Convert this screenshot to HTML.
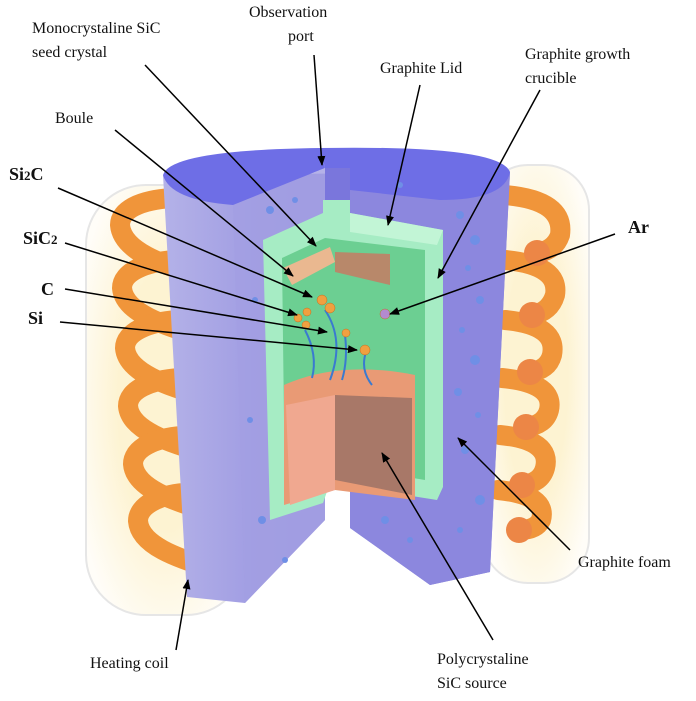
<!DOCTYPE html>
<html><head><meta charset="utf-8"><style>
html,body{margin:0;padding:0;background:#fff;}
svg{display:block;}
text{font-family:"Liberation Serif",serif;font-size:16px;fill:#111;}
.b{font-weight:bold;font-size:18px;}
</style></head><body>
<svg width="696" height="701" viewBox="0 0 696 701" xmlns="http://www.w3.org/2000/svg">
<defs>
<marker id="ar" markerWidth="10" markerHeight="8" refX="9" refY="4" orient="auto" markerUnits="userSpaceOnUse">
<path d="M0,0 L10,4 L0,8 z" fill="#000"/></marker>
<linearGradient id="cyl" x1="0" x2="1" y1="0" y2="0">
<stop offset="0" stop-color="#b4b2e8"/><stop offset="0.3" stop-color="#9e9ae2"/><stop offset="1" stop-color="#8a86da"/></linearGradient>
<radialGradient id="halo" cx="0.5" cy="0.5" r="0.6">
<stop offset="0.5" stop-color="#fdf3d2"/><stop offset="1" stop-color="#fffdf8"/></radialGradient>
</defs>

<!-- halos -->
<rect x="86" y="185" width="160" height="430" rx="60" fill="url(#halo)" stroke="#e6e6e6" stroke-width="2"/>
<rect x="483" y="165" width="106" height="418" rx="45" fill="url(#halo)" stroke="#e6e6e6" stroke-width="2"/>

<!-- left coil -->
<g fill="none" stroke="#f0953a" stroke-width="20" stroke-linecap="round">
<path d="M205,277 C160,265 122,250 120,225 C120,210 140,200 172,198"/>
<path d="M208,338 C162,326 124,312 122,288 C122,272 145,262 175,260"/>
<path d="M210,398 C165,386 127,372 125,348 C125,332 148,322 178,320"/>
<path d="M212,455 C168,443 130,430 128,406 C128,390 150,380 180,378"/>
<path d="M214,513 C172,501 135,488 133,464 C133,448 155,438 182,436"/>
<path d="M216,570 C176,558 140,545 138,521 C138,505 160,495 184,493"/>
</g>
<g fill="#f2a04a">
<ellipse cx="207" cy="277" rx="8" ry="11"/><ellipse cx="210" cy="338" rx="8" ry="11"/>
<ellipse cx="212" cy="398" rx="8" ry="11"/><ellipse cx="214" cy="455" rx="8" ry="11"/>
<ellipse cx="216" cy="513" rx="8" ry="11"/><ellipse cx="218" cy="570" rx="8" ry="11"/>
</g>

<!-- right coil -->
<g fill="none" stroke="#f0953a" stroke-width="20" stroke-linecap="round">
<path d="M505,195 Q565,200 560,235 Q555,250 537,253"/>
<path d="M505,260 Q560,265 555,295 Q550,312 532,315"/>
<path d="M505,320 Q558,325 552,355 Q548,370 530,372"/>
<path d="M502,378 Q555,383 549,410 Q545,425 526,427"/>
<path d="M500,435 Q552,440 545,468 Q541,483 522,485"/>
<path d="M498,490 Q548,495 541,520 Q536,530 519,530"/>
</g>
<g fill="#ec8646">
<circle cx="537" cy="253" r="13"/><circle cx="532" cy="315" r="13"/><circle cx="530" cy="372" r="13"/>
<circle cx="526" cy="427" r="13"/><circle cx="522" cy="485" r="13"/><circle cx="519" cy="530" r="13"/>
</g>

<!-- cylinder body -->
<path d="M163,175 L510,172 L490,572 L430,585 L350,528 L350,490 L325,490 L325,520 L245,603 L187,597 Z" fill="url(#cyl)"/>
<path d="M233,205 L325,168 L325,520 L245,603 Z" fill="#a39fe2" opacity="0.8"/>
<path d="M350,168 L350,528 L430,585 L490,572 L510,172 Z" fill="#8c87de"/>
<path d="M163,175 Q170,150 320,148 L325,168 L233,205 Q170,200 163,175 Z" fill="#6e6ee6"/>
<path d="M320,148 Q500,145 510,172 Q505,200 440,200 L350,190 L350,168 L325,168 Z" fill="#6e6ee6"/>
<rect x="325" y="168" width="25" height="322" fill="#7a76dc"/>

<!-- bubbles -->
<g fill="#6f8fe6">
<circle cx="460" cy="215" r="4"/><circle cx="475" cy="240" r="5"/><circle cx="468" cy="268" r="3"/>
<circle cx="480" cy="300" r="4"/><circle cx="462" cy="330" r="3"/><circle cx="475" cy="360" r="5"/>
<circle cx="458" cy="392" r="4"/><circle cx="478" cy="415" r="3"/><circle cx="465" cy="450" r="4"/>
<circle cx="480" cy="500" r="5"/><circle cx="460" cy="530" r="3"/><circle cx="385" cy="520" r="4"/>
<circle cx="410" cy="540" r="3"/><circle cx="270" cy="210" r="4"/><circle cx="295" cy="200" r="3"/>
<circle cx="255" cy="300" r="3"/><circle cx="250" cy="420" r="3"/><circle cx="262" cy="520" r="4"/>
<circle cx="285" cy="560" r="3"/><circle cx="400" cy="185" r="3"/>
</g>

<!-- green crucible -->
<path d="M263,240 L323,213 L323,200 L350,200 L350,213 L443,230 L443,487 L437,500 L330,483 L323,503 L270,520 Z" fill="#a6ecc4"/>
<path d="M282,258 L325,238 L425,250 L425,480 L335,465 L330,485 L285,500 Z" fill="#6ccf92"/>
<path d="M350,213 L443,230 L437,245 L350,232 Z" fill="#c2f5d6"/>
<path d="M283,268 L330,247 L335,262 L292,285 Z" fill="#eab890"/>
<path d="M335,252 L390,254 L390,285 L335,272 Z" fill="#b8886a"/>
<path d="M284,385 Q340,360 415,375 L415,500 L335,490 L284,505 Z" fill="#e99a75"/>
<path d="M286,405 L335,395 L335,490 L290,505 Z" fill="#f0a890"/>
<path d="M335,395 L412,398 L412,495 L335,480 Z" fill="#a87868"/>
<g fill="none" stroke="#3a7ad0" stroke-width="2">
<path d="M305,330 Q318,355 312,378"/><path d="M325,310 Q345,340 330,380"/>
<path d="M345,335 Q348,360 342,380"/><path d="M366,352 Q360,370 372,385"/>
</g>
<g fill="#f0a040" stroke="#c07020" stroke-width="0.5">
<circle cx="322" cy="300" r="5"/><circle cx="330" cy="308" r="5"/><circle cx="307" cy="312" r="4"/>
<circle cx="298" cy="318" r="4"/><circle cx="306" cy="325" r="4"/><circle cx="346" cy="333" r="4"/>
<circle cx="365" cy="350" r="5"/><circle cx="385" cy="314" r="5" fill="#b48ad0"/>
</g>

<!-- arrows -->
<g stroke="#000" stroke-width="1.5" fill="none" marker-end="url(#ar)">
<line x1="145" y1="65" x2="316" y2="246"/>
<line x1="314" y1="55" x2="322" y2="165"/>
<line x1="420" y1="85" x2="388" y2="225"/>
<line x1="540" y1="90" x2="438" y2="278"/>
<line x1="115" y1="130" x2="293" y2="276"/>
<line x1="58" y1="188" x2="312" y2="297"/>
<line x1="65" y1="243" x2="297" y2="315"/>
<line x1="65" y1="289" x2="327" y2="332"/>
<line x1="60" y1="322" x2="357" y2="350"/>
<line x1="615" y1="234" x2="390" y2="314"/>
<line x1="570" y1="550" x2="458" y2="438"/>
<line x1="176" y1="650" x2="188" y2="580"/>
<line x1="493" y1="640" x2="382" y2="453"/>
</g>

<text x="32" y="33">Monocrystaline SiC</text>
<text x="32" y="57">seed crystal</text>
<text x="249" y="17">Observation</text>
<text x="288" y="41">port</text>
<text x="380" y="73">Graphite Lid</text>
<text x="525" y="59">Graphite growth</text>
<text x="525" y="83">crucible</text>
<text x="55" y="123">Boule</text>
<text class="b" x="9" y="180">Si<tspan font-size="13">2</tspan>C</text>
<text class="b" x="23" y="244">SiC<tspan font-size="13">2</tspan></text>
<text class="b" x="41" y="295">C</text>
<text class="b" x="28" y="324">Si</text>
<text class="b" x="628" y="233">Ar</text>
<text x="578" y="567">Graphite foam</text>
<text x="90" y="668">Heating coil</text>
<text x="437" y="664">Polycrystaline</text>
<text x="437" y="688">SiC source</text>
</svg>
</body></html>
